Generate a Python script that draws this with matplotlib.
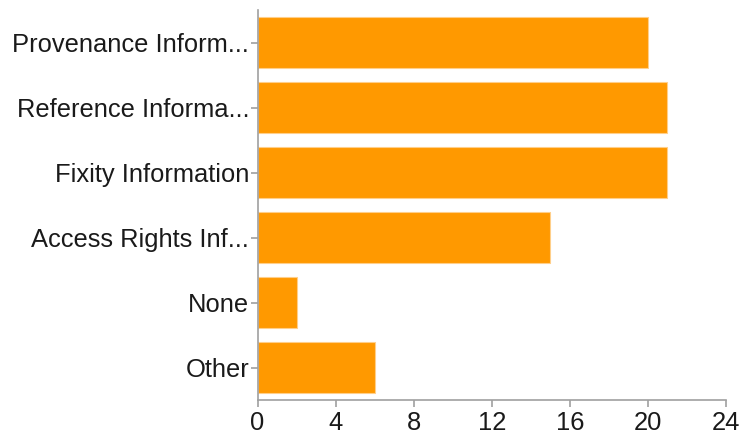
import matplotlib
matplotlib.use("Agg")
import matplotlib.pyplot as plt

categories = ["Provenance Inform...", "Reference Informa...", "Fixity Information",
              "Access Rights Inf...", "None", "Other"]
values = [20, 21, 21, 15, 2, 6]
xticks = [0, 4, 8, 12, 16, 20, 24]

plt.rcParams['font.family'] = ['Liberation Sans', 'DejaVu Sans']

fig = plt.figure(figsize=(7.43, 4.37), dpi=100)
ax = fig.add_axes([257.5 / 743, 1 - 400 / 437, (726 - 257.5) / 743, 390 / 437])

ypos = list(range(len(categories)))
ax.barh(ypos, values, height=0.79, color="#ff9900", edgecolor="#ffcf8a", linewidth=0.8)

ax.set_ylim(len(categories) - 0.5, -0.5)
ax.set_xlim(0, 24)
ax.set_yticks(ypos)
ax.set_yticklabels(categories)
ax.set_xticks(xticks)
ax.set_xticklabels([str(t) for t in xticks])

for s in ["top", "right"]:
    ax.spines[s].set_visible(False)
for s in ["left", "bottom"]:
    ax.spines[s].set_color("#a0a0a0")
    ax.spines[s].set_linewidth(1.2)

ax.tick_params(axis="both", colors="#a0a0a0", labelcolor="#1a1a1a", labelsize=18.4,
               length=5, width=1.2, direction="out")
ax.tick_params(axis="y", pad=1)
ax.tick_params(axis="x", pad=3)

fig.savefig("out.png", dpi=100, facecolor="white")
